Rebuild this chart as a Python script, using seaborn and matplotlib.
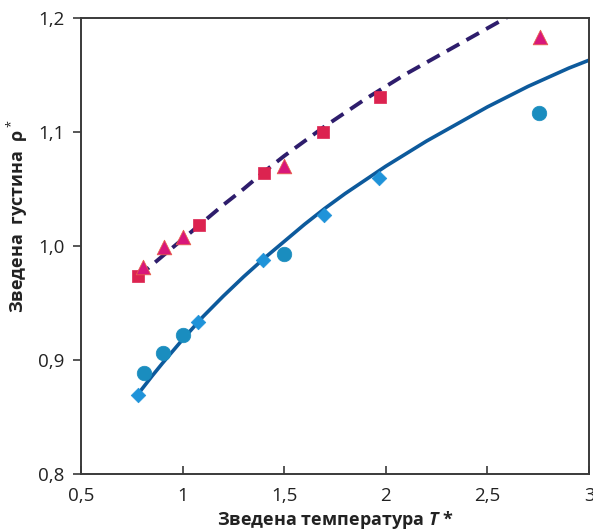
import matplotlib
matplotlib.use("Agg")
import matplotlib.pyplot as plt
import seaborn as sns

# --- data ---
sq_T = [0.78, 1.08, 1.40, 1.69, 1.97]
sq_rho = [0.974, 1.018, 1.064, 1.100, 1.131]

tri_T = [0.805, 0.91, 1.00, 1.50, 2.76]
tri_rho = [0.982, 0.999, 1.008, 1.070, 1.183]

dia_T = [0.78, 1.076, 1.396, 1.696, 1.967]
dia_rho = [0.869, 0.933, 0.988, 1.027, 1.060]

cir_T = [0.81, 0.904, 1.00, 1.50, 2.754]
cir_rho = [0.889, 0.906, 0.922, 0.993, 1.117]

dash_T = [0.78, 0.9, 1.0, 1.1, 1.2, 1.3, 1.4, 1.5, 1.6, 1.7, 1.8, 1.9, 2.0, 2.1, 2.2, 2.3, 2.4, 2.5, 2.6]
dash_rho = [0.973, 0.991, 1.006, 1.021, 1.036, 1.050, 1.065, 1.079, 1.092, 1.105, 1.117, 1.129, 1.140, 1.151, 1.161, 1.171, 1.181, 1.191, 1.201]

solid_T = [0.78, 0.85, 0.9, 1.0, 1.1, 1.2, 1.3, 1.4, 1.5, 1.6, 1.7, 1.8, 1.9, 2.0,
           2.1, 2.2, 2.3, 2.4, 2.5, 2.6, 2.7, 2.8, 2.9, 3.0]
solid_rho = [0.870, 0.886, 0.897, 0.918, 0.938, 0.956, 0.973, 0.989, 1.004, 1.019, 1.033, 1.046, 1.058, 1.070,
             1.081, 1.092, 1.102, 1.112, 1.122, 1.131, 1.140, 1.148, 1.156, 1.163]

x_ticks = [0.5, 1, 1.5, 2, 2.5, 3]
x_ticklabels = ["0,5", "1", "1,5", "2", "2,5", "3"]
y_ticks = [0.8, 0.9, 1.0, 1.1, 1.2]
y_ticklabels = ["0,8", "0,9", "1,0", "1,1", "1,2"]

sns.set_style("white")
plt.rcParams["font.family"] = ["Open Sans", "DejaVu Sans"]
plt.rcParams["mathtext.fontset"] = "custom"
plt.rcParams["mathtext.it"] = "Open Sans:italic:bold"
plt.rcParams["mathtext.rm"] = "Open Sans"

fig = plt.figure(figsize=(5.93, 5.31), dpi=100)
ax = fig.add_axes([0.1366, 0.1073, 0.8567, 0.8588])

sns.lineplot(x=solid_T, y=solid_rho, ax=ax, color="#0d5a9c", lw=2.6, sort=False)
sns.lineplot(x=dash_T, y=dash_rho, ax=ax, color="#2e1d6c", lw=2.8, sort=False,
             linestyle=(0, (3.7, 2.1)))

sns.scatterplot(x=sq_T, y=sq_rho, ax=ax, marker="s", s=70, color="#dc2350",
                edgecolor="#dc2350", linewidth=0.5, zorder=4)
sns.scatterplot(x=tri_T, y=tri_rho, ax=ax, marker="^", s=110, color="#d8177a",
                edgecolor="#e8604a", linewidth=0.6, zorder=4)
sns.scatterplot(x=dia_T, y=dia_rho, ax=ax, marker="D", s=55, color="#1f93d9",
                edgecolor="#1f93d9", linewidth=0.5, zorder=4)
sns.scatterplot(x=cir_T, y=cir_rho, ax=ax, marker="o", s=110, color="#1a8dbf",
                edgecolor="#1a8dbf", linewidth=0.5, zorder=4)

ax.set_xlim(0.5, 3.0)
ax.set_ylim(0.8, 1.2)
ax.set_xticks(x_ticks)
ax.set_xticklabels(x_ticklabels)
ax.set_yticks(y_ticks)
ax.set_yticklabels(y_ticklabels)

for sp in ax.spines.values():
    sp.set_visible(True)
    sp.set_color("#3a3a3a")
    sp.set_linewidth(1.4)

ax.tick_params(axis="x", direction="in", length=6, width=1.2, colors="#3a3a3a",
               labelsize=13.5, labelcolor="#222222", pad=9)
ax.tick_params(axis="y", direction="out", length=6, width=1.2, colors="#3a3a3a",
               labelsize=13.5, labelcolor="#222222", pad=6)
ax.xaxis.set_ticks_position("bottom")
ax.yaxis.set_ticks_position("left")

ax.set_xlabel("Зведена температура $T$ *", fontsize=13, fontweight="bold",
              color="#222222", labelpad=3)
ax.set_ylabel("Зведена  густина  ρ$^*$", fontsize=13, fontweight="bold",
              color="#222222")
ax.yaxis.set_label_coords(-0.1, 0.566)

fig.savefig("out.png", dpi=100)
